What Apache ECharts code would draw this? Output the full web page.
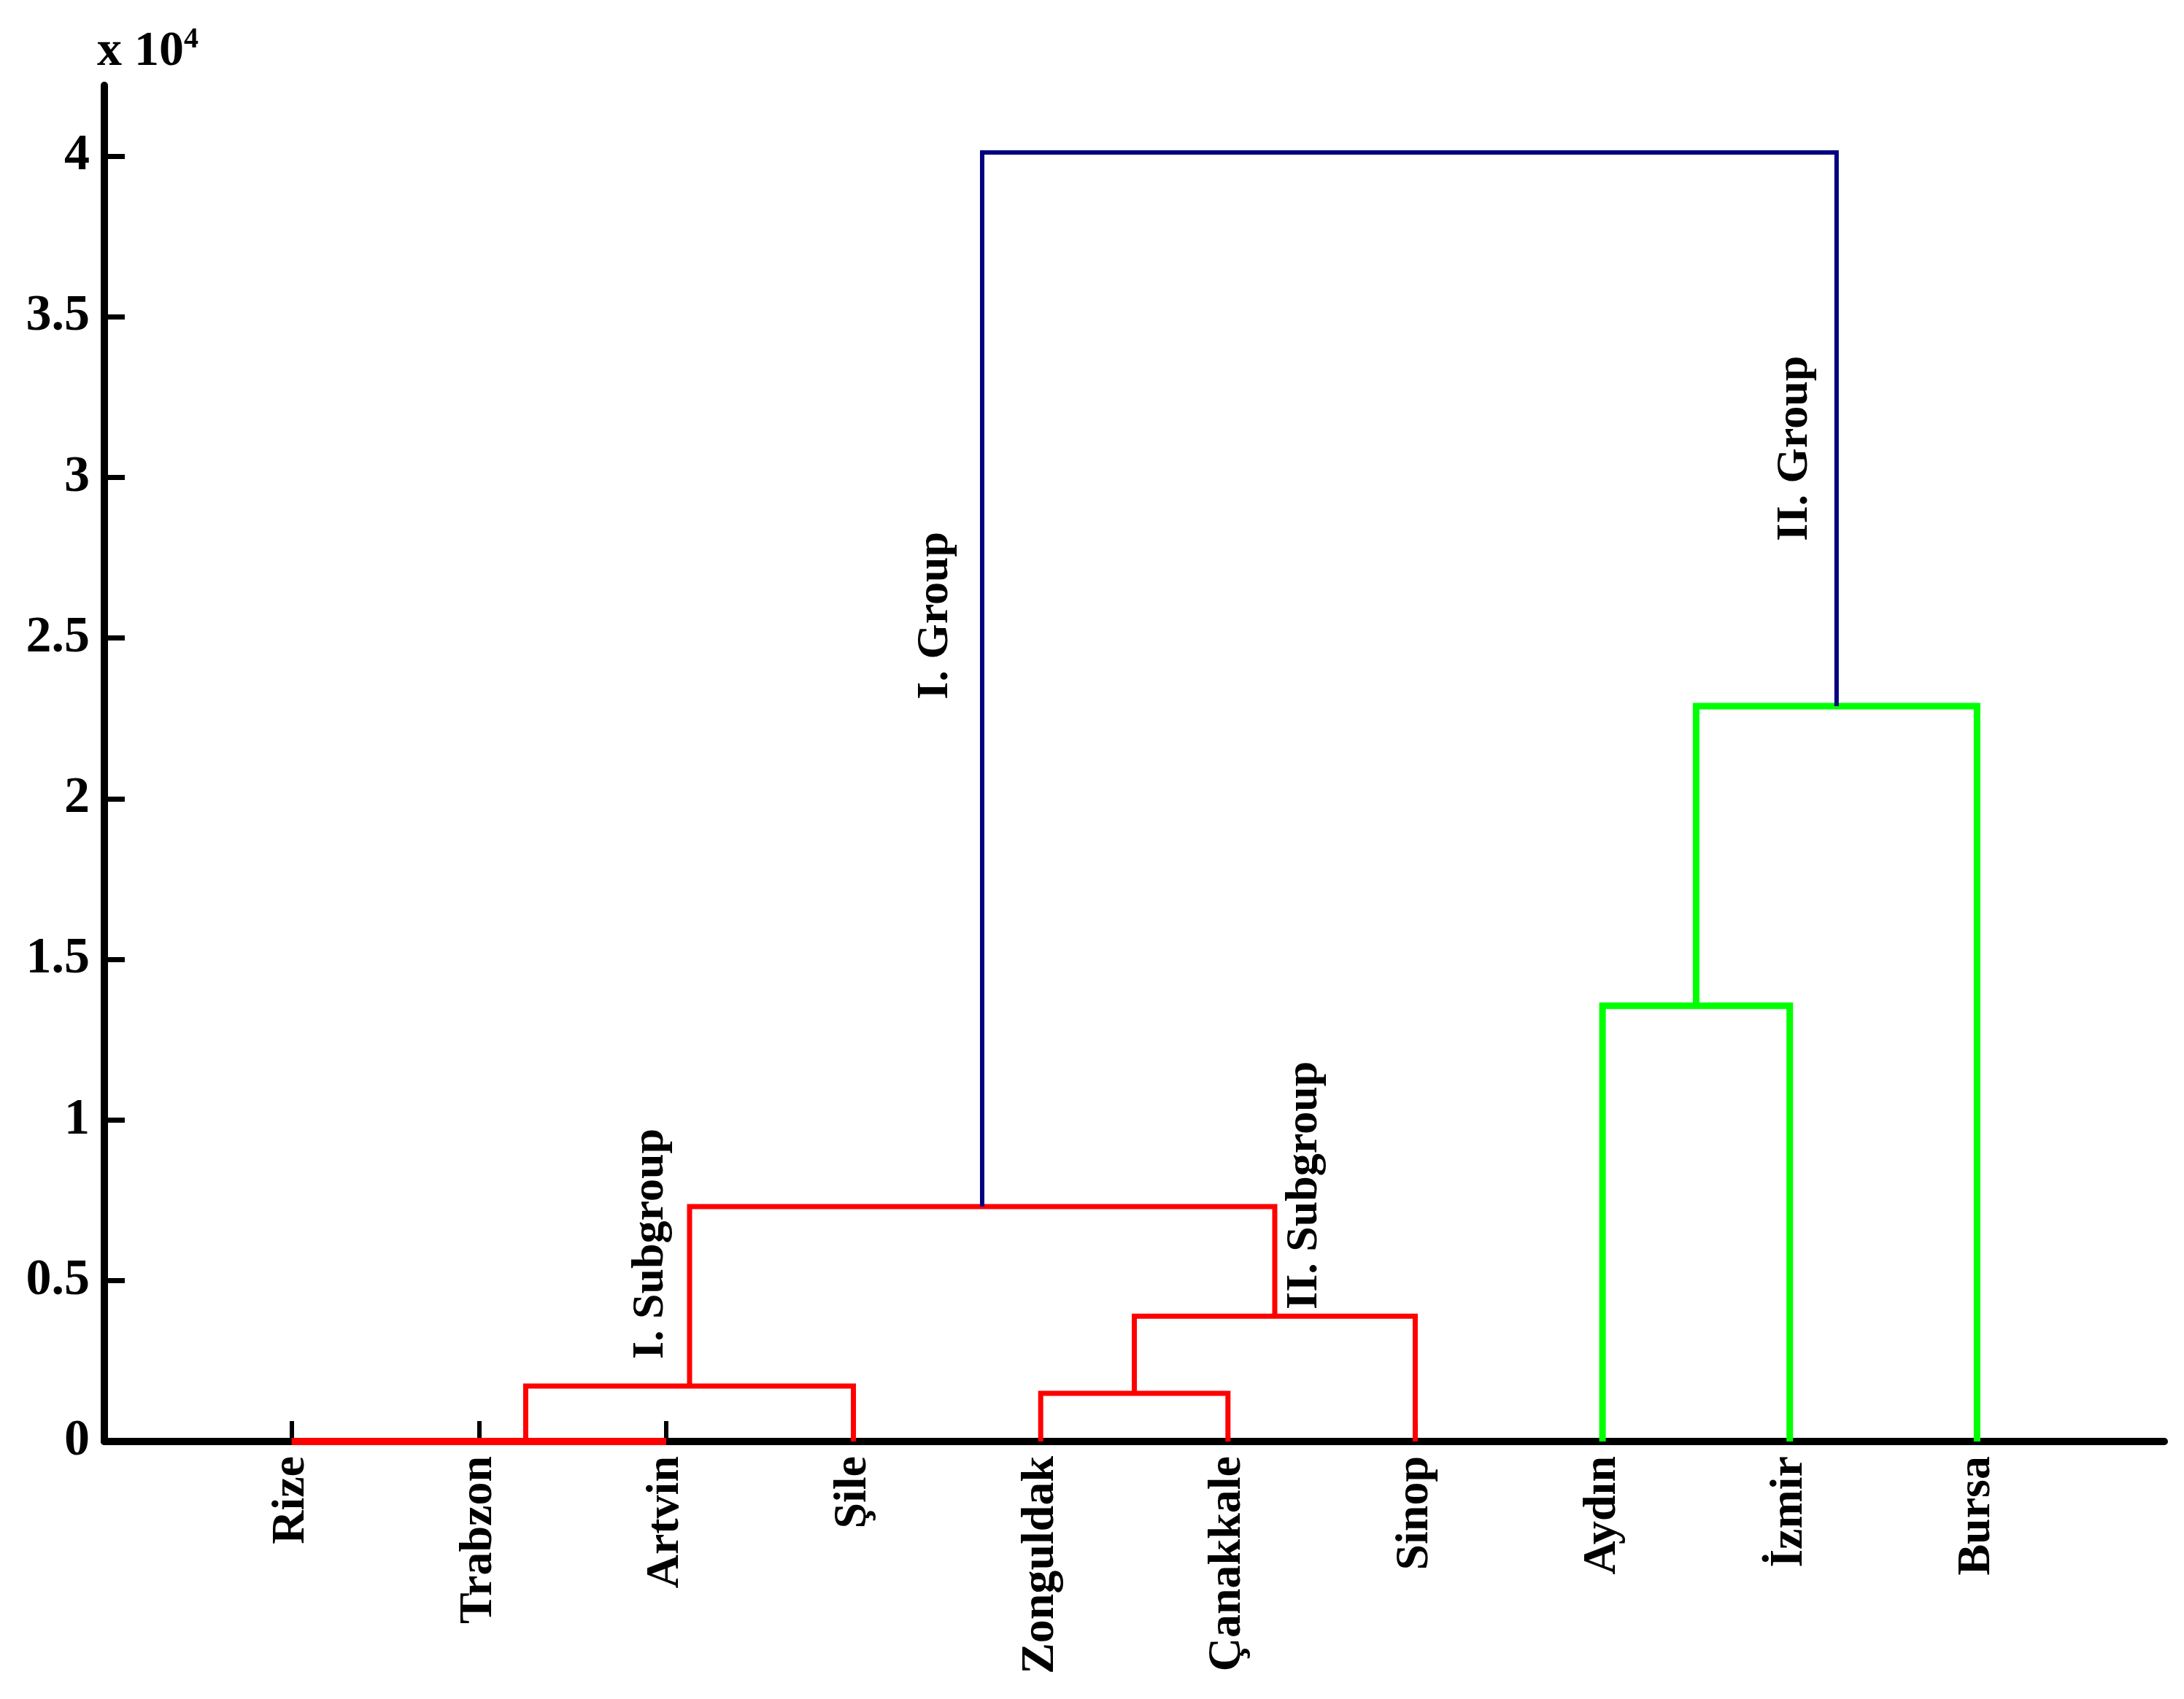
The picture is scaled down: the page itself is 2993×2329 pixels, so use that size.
<!DOCTYPE html>
<html>
<head>
<meta charset="utf-8">
<script src="https://cdn.jsdelivr.net/npm/echarts@6/dist/echarts.min.js"></script>
<style>
  html, body { margin: 0; padding: 0; background: #fff; }
  #main { width: 2993px; height: 2329px; }
</style>
</head>
<body>
<div id="main"></div>
<script>
// leaves in dendrogram order
var leaves = ['Rize', 'Trabzon', 'Artvin', 'Şile', 'Zonguldak', 'Çanakkale', 'Sinop', 'Aydın', 'İzmir', 'Bursa'];

// linkage: [left node, right node, height]; nodes 0..9 are leaves, 10+ are earlier merges
var mergeLeft   = [0, 10, 11,    4,   13,   12,    7,    16,    15];
var mergeRight  = [1,  2,  3,    5,    6,   14,    8,     9,    17];
var mergeHeight = [0,  0, 1725, 1500, 3900, 7310, 13560, 22880, 40110];
var mergeColor  = ['#ff0000', '#ff0000', '#ff0000', '#ff0000', '#ff0000', '#ff0000', '#00ff00', '#00ff00', '#000080'];

// y axis ticks (x 10^4)
var yTickValues = [0, 5000, 10000, 15000, 20000, 25000, 30000, 35000, 40000];
var yTickLabels = ['0', '0.5', '1', '1.5', '2', '2.5', '3', '3.5', '4'];

// group annotations
var noteText = ['I. Group', 'II. Group', 'I. Subgroup', 'II. Subgroup'];
var noteX    = [4.44, 9.03, 2.92, 6.41];
var noteY    = [25700, 30900, 6150, 7970];

var FONT = '"Liberation Serif", "Times New Roman", serif';

var myChart = echarts.init(document.getElementById('main'));

// node positions: leaves at 1..n, merged nodes at mean of children
var nodeX = [], nodeH = [];
leaves.forEach(function (name, i) { nodeX.push(i + 1); nodeH.push(0); });

var series = [];
for (var k = 0; k < mergeHeight.length; k++) {
    var a = mergeLeft[k], b = mergeRight[k], h = mergeHeight[k];
    var w = mergeColor[k] == '#00ff00' ? 9 : (mergeColor[k] == '#000080' ? 6 : 7);
    if (h == 0) w = 10; // lies on the axis line
    series.push({
        type: 'line',
        data: [[nodeX[a], nodeH[a]], [nodeX[a], h], [nodeX[b], h], [nodeX[b], nodeH[b]]],
        symbol: 'none',
        silent: true,
        lineStyle: {
            color: mergeColor[k],
            width: w,
            cap: 'butt',
            join: 'miter'
        },
        z: 3
    });
    nodeX.push((nodeX[a] + nodeX[b]) / 2);
    nodeH.push(h);
}

series.push({
    type: 'scatter',
    symbolSize: 0,
    silent: true,
    itemStyle: { opacity: 1 },
    data: noteText.map(function (t, i) { return { name: t, value: [noteX[i], noteY[i]] }; }),
    label: {
        show: true,
        position: 'inside',
        rotate: 90,
        formatter: '{b}',
        color: '#000',
        opacity: 1,
        fontFamily: FONT,
        fontWeight: 'bold',
        fontSize: 62
    },
    z: 4
});

option = {
    backgroundColor: '#fff',
    animation: false,
    grid: {
        left: 143,
        right: 27,
        top: 117,
        bottom: 353
    },
    xAxis: {
        type: 'value',
        min: 0,
        max: leaves.length + 1,
        splitLine: { show: false },
        axisLine: { lineStyle: { color: '#000', width: 10 } },
        axisTick: {
            inside: true,
            length: 28,
            customValues: leaves.map(function (n, i) { return i + 1; }),
            lineStyle: { color: '#000', width: 6 }
        },
        axisLabel: {
            customValues: leaves.map(function (n, i) { return i + 1; }),
            formatter: function (v) { return leaves[v - 1] || ''; },
            rotate: 90,
            margin: 20,
            color: '#000',
            fontFamily: FONT,
            fontWeight: 'bold',
            fontSize: 64
        }
    },
    yAxis: {
        type: 'value',
        min: 0,
        max: 42200,
        splitLine: { show: false },
        axisLine: { show: true, lineStyle: { color: '#000', width: 10 } },
        axisTick: {
            inside: true,
            length: 28,
            customValues: yTickValues,
            lineStyle: { color: '#000', width: 7 }
        },
        axisLabel: {
            customValues: yTickValues,
            formatter: function (v) { return yTickLabels[yTickValues.indexOf(v)]; },
            margin: 20,
            color: '#000',
            fontFamily: FONT,
            fontWeight: 'bold',
            fontSize: 70
        },
        name: '{a|x 10}{b|4}',
        nameLocation: 'end',
        nameGap: 10,
        nameTextStyle: {
            align: 'left',
            padding: [0, 0, 0, -10],
            rich: {
                a: { fontFamily: FONT, fontWeight: 'bold', fontSize: 68, color: '#000', lineHeight: 72 },
                b: { fontFamily: FONT, fontWeight: 'bold', fontSize: 40, color: '#000', verticalAlign: 'top', lineHeight: 72 }
            }
        }
    },
    series: series
};

myChart.setOption(option);
</script>
</body>
</html>
